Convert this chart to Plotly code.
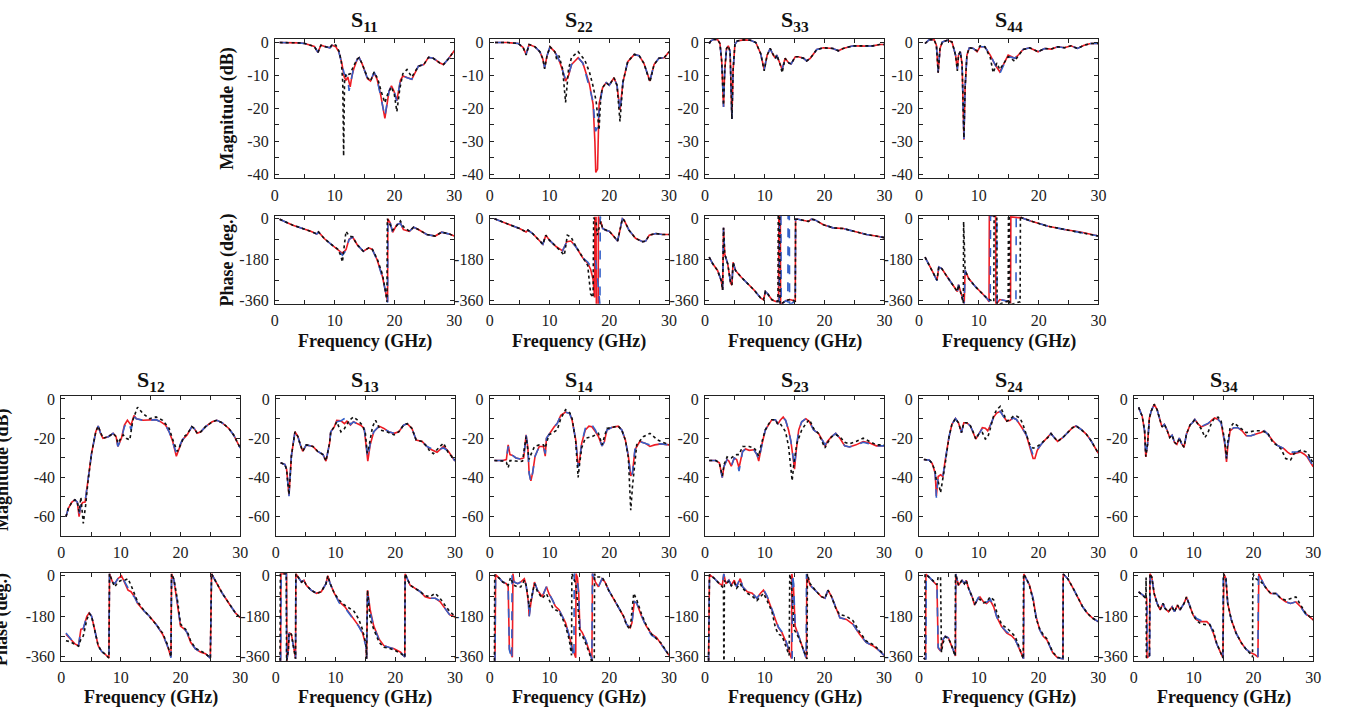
import plotly.graph_objects as go

# ---------------- DATA (frequency GHz, value) ----------------
# S11
S11_MAG_RED = [(0.8,0),(2,0),(4,-0.1),(5,-0.3),(6,-1.0),(6.6,-1.2),(7.2,-3.0),(7.7,-0.8),(8.5,-1.3),(9.2,-1.6),(9.6,-0.8),(10.2,-1.3),(10.7,-2.8),(11.2,-6.3),(11.6,-10.5),(11.9,-11.5),(12.2,-10.5),(12.6,-13.5),(12.9,-10),(13.2,-8.0),(13.8,-5.0),(14.1,-4.6),(14.6,-6.5),(15.5,-11),(16.0,-11.7),(16.6,-9.2),(17.1,-11.2),(17.7,-16),(18.4,-23.1),(19.1,-14.7),(19.5,-13.2),(19.9,-14.7),(20.4,-17.7),(21.0,-11.5),(21.4,-10.2),(22.1,-10.7),(22.9,-11.2),(24.0,-7.2),(24.9,-6.7),(25.7,-4.5),(26.5,-4.8),(27.6,-6.2),(28.2,-6.7),(29.0,-5.0),(30,-2.5)]
S11_MAG_BLUE = [(0.8,0),(2,0),(4,-0.1),(5,-0.3),(6,-1.0),(6.6,-1.2),(7.2,-3.0),(7.7,-0.8),(8.5,-1.3),(9.2,-1.6),(9.6,-0.8),(10.2,-1.3),(10.7,-2.8),(11.2,-6.3),(11.6,-9.5),(11.9,-10),(12.2,-10.5),(12.4,-14.7),(12.8,-11),(13.2,-7.5),(13.8,-5.0),(14.1,-4.6),(14.6,-6.5),(15.5,-11),(16.0,-11.7),(16.6,-9.0),(17.1,-11.2),(17.7,-16),(18.4,-22.5),(19.1,-14.7),(19.5,-13.2),(19.9,-14.7),(20.4,-17.7),(21.0,-11.5),(21.4,-10.2),(22.1,-10.7),(22.9,-11.2),(24.0,-7.2),(24.9,-6.7),(25.7,-4.5),(26.5,-4.8),(27.6,-6.2),(28.2,-6.7),(29.0,-5.0),(30,-2.5)]
S11_MAG_BLACK = [(0.8,0),(2,0),(4,-0.1),(5,-0.3),(6,-1.0),(6.6,-1.2),(7.2,-3.0),(7.7,-0.8),(8.5,-1.3),(9.2,-1.6),(9.6,-0.5),(10.2,-0.8),(10.7,-2.5),(11.1,-5.5),(11.35,-12),(11.5,-34.5),(11.65,-12),(11.9,-9.5),(12.2,-9.8),(12.6,-9.5),(13.2,-7),(13.8,-5),(14.1,-4.6),(14.6,-6.5),(15.5,-10.7),(16.0,-11.7),(16.6,-9.0),(17.2,-11),(17.8,-15),(18.4,-18.3),(18.9,-15.5),(19.5,-13.5),(20.0,-16),(20.4,-21),(20.9,-14),(21.4,-9.5),(22.1,-8.2),(22.6,-9.5),(22.9,-10.5),(24.0,-7.2),(24.9,-6.7),(25.7,-4.5),(26.5,-4.8),(27.6,-6.2),(28.2,-6.7),(29.0,-5.0),(30,-2.5)]
S11_PH_RED = [(0.8,-2),(3,-28),(6,-55),(7.0,-67),(7.3,-58),(8.3,-88),(9.4,-112),(10.5,-133),(11.3,-152),(11.9,-135),(12.4,-90),(13.0,-80),(13.8,-115),(14.8,-143),(15.7,-128),(16.3,-135),(17.1,-180),(18.0,-255),(18.5,-313),(18.85,-365),(18.9,0),(19.3,-19),(19.7,-60),(20.4,-26),(21.0,-19),(21.5,-48),(22.5,-55),(23.2,-37),(24.0,-47),(25.4,-69),(26.8,-76),(27.9,-59),(29.3,-68),(30,-76)]
S11_PH_BLUE = [(0.8,-2),(3,-28),(6,-55),(7.0,-67),(7.3,-58),(8.3,-88),(9.4,-112),(10.5,-135),(11.3,-160),(11.9,-140),(12.4,-92),(13.0,-80),(13.8,-115),(14.8,-143),(15.7,-128),(16.3,-135),(17.1,-182),(18.0,-258),(18.5,-318),(18.85,-368),(18.9,0),(19.3,-19),(19.7,-60),(20.4,-26),(21.0,-19),(21.5,-48),(22.5,-55),(23.2,-37),(24.0,-47),(25.4,-69),(26.8,-76),(27.9,-59),(29.3,-68),(30,-76)]
S11_PH_BLACK = [(0.8,-2),(3,-28),(6,-55),(7.0,-67),(7.3,-58),(8.3,-88),(9.4,-112),(10.5,-133),(11.0,-160),(11.3,-190),(11.6,-120),(11.9,-55),(12.4,-75),(13.0,-80),(13.8,-115),(14.8,-143),(15.7,-128),(16.3,-135),(17.1,-175),(18.0,-245),(18.5,-320),(18.75,-365),(18.8,0),(19.2,-20),(19.7,-50),(20.4,-30),(21.0,-10),(21.5,-35),(22.5,-55),(23.2,-37),(24.0,-47),(25.4,-69),(26.8,-76),(27.9,-59),(29.3,-68),(30,-76)]

# S22
S22_MAG_RED = [(0.9,0),(3,0),(4.8,-0.3),(5.6,-1.5),(6.1,-3.6),(6.6,-0.6),(7.6,-1.3),(8.4,-2.8),(8.9,-5),(9.2,-7.7),(9.6,-4),(10.1,-1.3),(10.9,-2.8),(11.6,-5.3),(12.2,-8.5),(12.7,-11.7),(13.2,-10),(13.7,-6.7),(14.8,-4.6),(15.6,-6.3),(16.7,-12.7),(17.3,-18.7),(17.6,-30),(17.75,-39.5),(18.05,-38.5),(18.3,-18.7),(18.9,-13.7),(19.5,-12.2),(20.0,-13),(20.8,-10.7),(21.3,-13),(21.8,-20.6),(22.3,-12),(23.1,-5.8),(24.2,-3.6),(25.0,-4),(25.8,-6.3),(26.3,-9),(26.8,-11.7),(27.5,-6.7),(28.3,-4.8),(29.2,-4.6),(30,-2.8)]
S22_MAG_BLUE = [(0.9,0),(3,0),(4.8,-0.3),(5.6,-1.5),(6.1,-3.6),(6.6,-0.6),(7.6,-1.3),(8.4,-2.8),(8.9,-5),(9.2,-7.7),(9.6,-4),(10.1,-1.3),(10.9,-2.8),(11.6,-5.3),(12.2,-8.5),(12.7,-11.2),(13.2,-9.8),(13.7,-6.7),(14.8,-4.6),(15.6,-6.3),(16.7,-13.7),(17.3,-18),(17.7,-27),(18.1,-25.6),(18.4,-19),(18.9,-13.7),(19.5,-12.2),(20.0,-13),(20.8,-10.7),(21.3,-13),(21.8,-21),(22.3,-12),(23.1,-5.8),(24.2,-3.6),(25.0,-4),(25.8,-6.3),(26.3,-9),(26.8,-11.7),(27.5,-6.7),(28.3,-4.8),(29.2,-4.6),(30,-2.8)]
S22_MAG_BLACK = [(0.9,0),(3,0),(4.8,-0.3),(5.6,-1.5),(6.1,-3.8),(6.6,-0.6),(7.6,-1.3),(8.4,-2.8),(8.9,-5),(9.2,-8),(9.6,-4),(10.1,-1.3),(10.9,-2.8),(11.2,-5),(11.6,-4),(12.2,-8),(12.7,-18.2),(13.2,-8),(13.7,-4.5),(14.8,-2.8),(15.9,-5.3),(16.7,-9),(17.3,-13.3),(17.8,-17.7),(18.3,-26.6),(18.6,-16),(18.9,-13.7),(19.5,-12.2),(20.0,-13),(20.8,-10.7),(21.3,-13),(21.8,-24),(22.3,-12),(23.1,-5.8),(24.2,-3.6),(25.0,-4),(25.8,-6.3),(26.3,-9),(26.8,-12),(27.5,-6.7),(28.3,-4.8),(29.2,-4.6),(30,-2.8)]
S22_PH_RED = [(0.8,0),(3.3,-26),(5,-43),(6.1,-58),(6.4,-50),(7.2,-65),(8.9,-112),(9.4,-72),(10,-94),(11.1,-122),(12.2,-141),(12.9,-101),(13.6,-98),(14.4,-122),(15.6,-173),(16.4,-195),(16.9,-223),(17.3,-266),(17.55,-346),(17.6,5),(17.8,5),(17.85,-378),(18.15,-378),(18.2,10),(18.4,-10),(18.6,-14),(18.9,-43),(19.4,-50),(20,-55),(20.6,-72),(21.4,-98),(22.2,0),(22.5,-7),(23.3,-50),(24.4,-86),(25.6,-101),(26.1,-98),(26.7,-72),(27.8,-65),(28.9,-69),(30,-69)]
S22_PH_BLUE = [(0.8,0),(3.3,-26),(5,-43),(6.1,-58),(6.4,-50),(7.2,-65),(8.9,-112),(9.4,-72),(10,-94),(11.1,-122),(12.2,-141),(12.9,-101),(13.6,-98),(14.4,-122),(15.6,-173),(16.4,-190),(16.9,-209),(17.3,-190),(17.7,-185),(18.0,-250),(18.45,-378),(18.5,10),(18.7,-15),(18.9,-43),(19.4,-50),(20,-55),(20.6,-72),(21.4,-98),(22.2,0),(22.5,-7),(23.3,-50),(24.4,-86),(25.6,-101),(26.1,-98),(26.7,-72),(27.8,-65),(28.9,-69),(30,-69)]
S22_PH_BLACK = [(0.8,0),(3.3,-26),(5,-43),(6.1,-58),(6.4,-50),(7.2,-65),(8.9,-112),(9.4,-72),(10,-94),(11.1,-122),(12.0,-145),(12.5,-160),(13.0,-72),(13.6,-80),(14.4,-120),(15.6,-170),(16.4,-205),(16.9,-331),(17.3,-346),(17.4,5),(17.8,-15),(18.0,-72),(18.3,-40),(18.6,-12),(18.9,-43),(19.4,-50),(20,-55),(20.6,-72),(21.4,-98),(22.2,0),(22.5,-7),(23.3,-50),(24.4,-86),(25.6,-101),(26.1,-98),(26.7,-72),(27.8,-65),(28.9,-69),(30,-69)]

# S33
S33_MAG_RED = [(0.7,-0.3),(1.0,0.5),(1.5,1),(2.1,0.9),(2.5,-0.3),(2.8,-5.8),(3.1,-19.6),(3.3,-8.5),(3.6,-1.8),(3.9,-1),(4.2,-2.8),(4.5,-23.1),(4.7,-8.5),(5.0,-0.6),(5.4,0.5),(6.5,0.8),(7.6,0.7),(8.5,0),(9.3,-3.3),(9.9,-8.2),(10.4,-3.8),(10.9,-1.8),(11.4,-3.8),(11.8,-4.8),(12.0,-3.8),(12.6,-7.2),(12.9,-8.2),(13.4,-4.8),(14.0,-6.2),(14.4,-6.5),(15.1,-4.3),(15.6,-4.3),(16.5,-4.8),(17.0,-5.6),(17.6,-4.8),(18.7,-2.1),(19.8,-1.6),(21.4,-1.8),(22.3,-2.5),(23.1,-1.8),(24.8,-1.0),(27,-1.1),(28.1,-1.0),(29.2,-0.6),(30,-0.6)]
S33_MAG_BLUE = [(0.7,-0.3),(1.0,0.5),(1.5,1),(2.1,0.9),(2.5,-0.3),(2.8,-5.8),(3.1,-19.6),(3.3,-8.5),(3.6,-1.8),(3.9,-1),(4.2,-2.8),(4.5,-23.6),(4.7,-8.5),(5.0,-0.6),(5.4,0.5),(6.5,0.8),(7.6,0.7),(8.5,0),(9.3,-3.3),(9.9,-8.2),(10.4,-3.8),(10.9,-1.8),(11.4,-3.8),(11.7,-5.3),(12.0,-3.8),(12.6,-7.2),(12.9,-8.2),(13.4,-4.8),(14.0,-6.2),(14.4,-6.5),(15.1,-4.3),(15.6,-4.3),(16.5,-4.8),(17.0,-5.6),(17.6,-4.8),(18.7,-2.1),(19.8,-1.6),(21.4,-1.8),(22.3,-2.5),(23.1,-1.8),(24.8,-1.0),(27,-1.1),(28.1,-1.0),(29.2,-0.6),(30,-0.6)]
S33_MAG_BLACK = [(0.7,-0.3),(1.0,0.5),(1.5,1),(2.1,0.9),(2.5,-0.3),(2.8,-5.8),(3.1,-19),(3.3,-8.5),(3.6,-1.8),(3.9,-1),(4.2,-2.8),(4.5,-23.3),(4.7,-8.5),(5.0,-0.6),(5.4,0.5),(6.5,0.8),(7.6,0.7),(8.5,0),(9.3,-3.3),(9.9,-8.6),(10.4,-3.8),(10.9,-1.8),(11.4,-3.6),(11.8,-4.8),(12.0,-3.8),(12.6,-6.8),(12.9,-9.2),(13.1,-7.2),(13.4,-4.8),(14.0,-6.2),(14.4,-6.5),(15.1,-4.3),(15.6,-4.3),(16.5,-4.8),(17.0,-5.6),(17.6,-4.8),(18.7,-2.1),(19.8,-1.6),(21.4,-1.8),(22.3,-2.5),(23.1,-1.8),(24.8,-1.0),(27,-1.1),(28.1,-1.0),(29.2,-0.6),(30,-0.6)]
S33_PH_RED = [(0.7,-169),(1.3,-198),(2.1,-227),(2.7,-270),(2.95,-313),(3.1,-40),(3.3,-155),(3.8,-198),(4.3,-284),(4.5,-291),(4.7,-191),(5.1,-227),(6,-255),(7.1,-284),(8.2,-313),(9.3,-348),(9.8,-356),(10.1,-320),(10.4,-327),(11.2,-356),(11.8,-363),(12.3,-363),(12.35,13),(12.6,13),(12.65,-378),(13.5,-360),(14.2,-355),(15.1,-362),(15.15,-2),(15.6,-2),(16.5,-9),(17.3,-12),(17.8,-2),(18.4,-5),(19.8,-26),(21.4,-40),(23.1,-43),(24.8,-55),(27,-69),(28.6,-76),(30,-83)]
S33_PH_BLUE = [(0.7,-169),(1.3,-198),(2.1,-227),(2.7,-270),(2.95,-313),(3.1,-40),(3.3,-155),(3.8,-198),(4.3,-284),(4.5,-291),(4.7,-191),(5.1,-227),(6,-255),(7.1,-284),(8.2,-313),(9.3,-348),(9.8,-356),(10.1,-320),(10.4,-327),(11.2,-356),(11.8,-363),(12.4,-363),(12.45,13),(12.7,13),(12.75,-378),(13.5,-360),(13.85,-365),(13.9,13),(14.1,13),(14.15,-378),(15.1,-362),(15.15,-2),(15.6,-2),(16.5,-9),(17.3,-12),(17.8,-2),(18.4,-5),(19.8,-26),(21.4,-40),(23.1,-43),(24.8,-55),(27,-69),(28.6,-76),(30,-83)]
S33_PH_BLACK = [(0.7,-169),(1.3,-198),(2.1,-227),(2.7,-270),(2.95,-313),(3.1,-40),(3.3,-155),(3.8,-198),(4.3,-284),(4.5,-291),(4.7,-191),(5.1,-227),(6,-255),(7.1,-284),(8.2,-313),(9.3,-348),(9.8,-356),(10.1,-320),(10.4,-327),(11.2,-356),(11.8,-363),(12.2,-363),(12.25,13),(12.5,13),(12.55,-378),(13.5,-360),(14.2,-355),(15.1,-362),(15.15,-2),(15.6,-2),(16.5,-9),(17.3,-12),(17.8,-2),(18.4,-5),(19.8,-26),(21.4,-40),(23.1,-43),(24.8,-55),(27,-69),(28.6,-76),(30,-83)]

# S44
S44_MAG_RED = [(1,-0.3),(1.7,0.9),(2.5,0.9),(2.9,-0.8),(3.2,-9.2),(3.5,-1.8),(3.9,0.2),(4.7,0.7),(5.5,0.2),(6.1,-3.8),(6.4,-8.2),(6.6,-3.8),(6.9,-2.8),(7.2,-6.7),(7.5,-29.6),(7.7,-13.7),(8.0,-3.8),(8.4,-1.6),(9.1,-1.8),(9.7,-2.8),(10.2,-1.3),(11,-1.3),(11.9,-3.8),(12.7,-6.7),(13.5,-8.9),(14.1,-6.7),(14.9,-3.8),(15.5,-4.3),(16,-4.8),(16.6,-3.8),(17.4,-2.1),(18.5,-1.6),(19.9,-2.8),(21,-1.8),(22.1,-2),(23.2,-1.3),(24.3,-1.6),(25.4,-1),(26.5,-1.8),(27.6,-0.8),(28.7,-0.3),(30,-0.3)]
S44_MAG_BLUE = [(1,-0.3),(1.7,0.9),(2.5,0.9),(2.9,-0.8),(3.2,-9.0),(3.5,-1.8),(3.9,0.2),(4.7,0.7),(5.5,0.2),(6.1,-3.8),(6.4,-8.0),(6.6,-3.8),(6.9,-2.8),(7.2,-6.7),(7.5,-29.3),(7.7,-13.7),(8.0,-3.8),(8.4,-1.6),(9.1,-1.8),(9.7,-2.8),(10.2,-1.3),(11,-1.3),(11.9,-3.8),(12.7,-6.9),(13.5,-9.5),(14.1,-7),(14.9,-4.3),(15.5,-4.5),(16,-4.8),(16.6,-3.8),(17.4,-2.1),(18.5,-1.6),(19.9,-2.8),(21,-1.8),(22.1,-2),(23.2,-1.3),(24.3,-1.6),(25.4,-1),(26.5,-1.8),(27.6,-0.8),(28.7,-0.3),(30,-0.3)]
S44_MAG_BLACK = [(1,-0.3),(1.7,0.9),(2.5,0.9),(2.9,-0.8),(3.2,-9.2),(3.5,-1.8),(3.9,0.2),(4.7,0.7),(5.5,0.2),(6.1,-3.8),(6.4,-8.6),(6.6,-3.8),(6.9,-2.8),(7.2,-6.7),(7.5,-29),(7.7,-13.7),(8.0,-3.8),(8.4,-1.6),(9.1,-1.8),(9.7,-2.5),(10.2,-1.0),(11,-1.3),(11.9,-4.5),(12.4,-9.2),(13.0,-6.2),(13.5,-8.2),(14.1,-6.5),(14.9,-4.3),(15.5,-5.0),(16,-5.7),(16.6,-4.0),(17.4,-2.1),(18.5,-1.6),(19.9,-2.8),(21,-1.8),(22.1,-2),(23.2,-1.3),(24.3,-1.6),(25.4,-1),(26.5,-1.8),(27.6,-0.8),(28.7,-0.3),(30,-0.3)]
S44_PH_RED = [(1,-169),(2.2,-227),(3.0,-270),(3.3,-212),(3.8,-219),(4.7,-255),(5.8,-298),(6.4,-320),(6.6,-290),(7.2,-348),(7.55,-372),(7.7,-227),(8.3,-263),(9.4,-298),(10.5,-327),(11.3,-348),(11.7,-365),(11.75,13),(12.8,13),(12.85,-378),(13.5,-355),(14.5,-360),(15.3,-368),(15.35,8),(16.5,5),(17.1,5),(18.8,-11),(21.6,-33),(24.3,-47),(27,-58),(30,-76)]
S44_PH_BLUE = [(1,-169),(2.2,-227),(3.0,-272),(3.3,-212),(3.8,-219),(4.7,-255),(5.8,-298),(6.4,-320),(6.6,-290),(7.2,-348),(7.55,-372),(7.7,-227),(8.3,-263),(9.4,-298),(10.5,-327),(11.3,-348),(11.9,-365),(11.95,13),(13.0,13),(13.05,-378),(13.5,-355),(14.5,-360),(16.2,-368),(16.25,13),(16.6,5),(17.1,5),(18.8,-11),(21.6,-33),(24.3,-47),(27,-58),(30,-76)]
S44_PH_BLACK = [(1,-169),(2.2,-227),(3.0,-270),(3.3,-212),(3.8,-219),(4.7,-255),(5.8,-298),(6.4,-320),(6.6,-290),(7.2,-348),(7.4,-370),(7.45,-13),(7.7,-227),(8.3,-263),(9.4,-298),(10.5,-327),(11.3,-348),(12.5,-365),(12.55,13),(13.0,13),(13.05,-378),(14.9,-362),(14.95,13),(15.1,13),(15.15,-378),(16.9,-365),(16.95,13),(17.1,5),(18.8,-11),(21.6,-33),(24.3,-47),(27,-58),(30,-76)]

# S12
S12_MAG_RED = [(0.8,-60.3),(1.2,-56),(1.8,-52.8),(2.3,-51.6),(2.7,-52.8),(3.0,-60.3),(3.3,-54.5),(3.6,-53),(4.0,-52.8),(4.5,-41),(5.1,-27.7),(5.8,-16.8),(6.2,-13.9),(6.6,-17.6),(7.0,-20.1),(7.9,-19.3),(8.7,-17.6),(9.2,-19.3),(9.5,-24.3),(10.1,-20.1),(10.6,-13.4),(11.1,-10.9),(11.5,-12.6),(11.7,-13.4),(12.2,-8.4),(12.6,-10.1),(13.7,-10.9),(14.8,-10.9),(15.9,-10.6),(16.7,-11.7),(17.5,-13.4),(18.1,-16.8),(18.7,-21.8),(19.3,-29.3),(19.8,-25.1),(20.3,-21),(21.1,-18.4),(21.9,-14.2),(22.3,-15.1),(22.8,-17.6),(23.4,-16.8),(24.2,-14.2),(25.3,-11.7),(26.1,-10.9),(27,-12.2),(28.1,-15.1),(28.9,-18.4),(30,-25.1)]
S12_MAG_BLUE = [(0.8,-60.3),(1.2,-56),(1.8,-52.8),(2.3,-51.6),(2.7,-52.8),(3.0,-59),(3.3,-54.5),(3.6,-53),(4.0,-52.8),(4.5,-41),(5.1,-27.7),(5.8,-16.8),(6.2,-13.9),(6.6,-17.6),(7.0,-20.1),(7.9,-19.3),(8.7,-17.6),(9.2,-19.3),(9.5,-24.3),(10.1,-20.1),(10.6,-14.2),(11.1,-11.7),(11.5,-13.5),(11.7,-15.9),(12.2,-9),(12.6,-10.1),(13.7,-10.9),(14.8,-10.9),(15.9,-10.6),(16.7,-11.7),(17.5,-13.4),(18.1,-16.8),(18.7,-21.8),(19.3,-27.7),(19.8,-24.3),(20.3,-21),(21.1,-18.4),(21.9,-14.2),(22.3,-15.1),(22.8,-17.6),(23.4,-16.8),(24.2,-14.2),(25.3,-11.7),(26.1,-10.9),(27,-12.2),(28.1,-15.1),(28.9,-18.4),(30,-25.1)]
S12_MAG_BLACK = [(0.8,-60.3),(1.2,-56),(1.8,-52.8),(2.3,-51.6),(2.7,-52.8),(3.0,-57.7),(3.3,-50.3),(3.7,-63.7),(4.1,-54.5),(4.5,-42),(5.1,-27.7),(5.8,-16.8),(6.2,-13.9),(6.6,-17.6),(7.0,-20.1),(7.9,-19.3),(8.7,-17.6),(9.2,-19.3),(9.5,-22.6),(10.4,-18.4),(10.9,-20.1),(11.5,-21),(12.0,-10.9),(12.8,-4.2),(13.7,-7.5),(14.8,-10.1),(15.9,-9.2),(17.0,-10.9),(18.1,-15.1),(18.9,-22.6),(19.5,-26.8),(20.0,-23.5),(20.6,-19.3),(21.1,-18),(21.9,-14.2),(22.3,-15.1),(22.8,-17.6),(23.4,-16.8),(24.2,-14.2),(25.3,-11.7),(26.1,-10.9),(27,-12.2),(28.1,-15.1),(28.9,-18.4),(30,-25.1)]
S12_PH_RED = [(0.8,-260),(1.5,-282),(2.3,-303),(2.9,-311),(3.3,-238),(3.7,-235),(4.3,-180),(4.7,-165),(5.1,-180),(5.6,-238),(6.2,-311),(6.8,-337),(7.3,-347),(8.0,-366),(8.1,9),(8.6,-28),(9.0,-35),(9.5,-13),(10.1,0),(10.6,-28),(11.2,-64),(11.7,-71),(12.3,-93),(12.8,-122),(13.7,-151),(14.8,-180),(15.9,-216),(17.0,-260),(17.8,-311),(18.4,-361),(18.5,9),(18.9,-20),(19.5,-122),(20.0,-224),(20.7,-238),(21.1,-253),(21.7,-296),(22.5,-325),(23.4,-340),(24.2,-347),(25.0,-366),(25.2,9),(25.8,-20),(27,-78),(28.1,-122),(29.2,-165),(30,-187)]
S12_PH_BLUE = [(0.8,-255),(1.5,-280),(2.3,-303),(2.9,-311),(3.3,-240),(3.7,-235),(4.3,-180),(4.7,-165),(5.1,-180),(5.6,-238),(6.2,-311),(6.8,-337),(7.3,-347),(8.0,-366),(8.1,9),(8.6,-28),(9.0,-35),(9.5,-13),(10.1,0),(10.6,-25),(11.2,-57),(11.7,-78),(12.3,-95),(12.8,-122),(13.7,-151),(14.8,-180),(15.9,-216),(17.0,-260),(17.8,-311),(18.4,-365),(18.5,9),(18.9,-20),(19.5,-122),(20.0,-224),(20.7,-238),(21.1,-253),(21.7,-296),(22.5,-325),(23.4,-340),(24.2,-347),(25.0,-366),(25.2,9),(25.8,-20),(27,-78),(28.1,-122),(29.2,-165),(30,-187)]
S12_PH_BLACK = [(0.8,-289),(1.5,-293),(2.3,-305),(2.9,-313),(3.3,-282),(3.7,-268),(4.3,-195),(4.7,-168),(5.1,-180),(5.6,-238),(6.2,-311),(6.8,-337),(7.3,-347),(8.0,-366),(8.1,9),(8.6,-28),(9.0,-49),(9.5,-28),(10.1,-20),(10.6,-20),(11.2,-13),(11.7,-42),(12.3,-78),(12.8,-115),(13.7,-148),(14.8,-180),(15.9,-216),(17.0,-255),(17.8,-305),(18.4,-361),(18.5,9),(18.9,-15),(19.5,-110),(20.0,-215),(20.7,-232),(21.1,-245),(21.7,-290),(22.5,-322),(23.4,-335),(24.2,-347),(25.0,-366),(25.2,9),(25.8,-20),(27,-78),(28.1,-122),(29.2,-165),(30,-187)]

# S13
S13_MAG_RED = [(0.8,-32.7),(1.5,-33.5),(1.8,-36),(2.0,-42.7),(2.2,-49.4),(2.4,-39.4),(2.6,-29.3),(3.2,-16.8),(3.7,-19.3),(4.1,-23.5),(4.5,-26.8),(5.1,-23.5),(6.2,-24.3),(7.0,-26.8),(7.9,-28.5),(8.4,-31.8),(9.0,-22.6),(9.2,-16.8),(9.8,-14.2),(10.2,-10.9),(10.9,-11.2),(11.5,-12.6),(11.9,-11.4),(12.5,-13.4),(13.0,-11.7),(13.6,-12.6),(14.2,-13.4),(14.8,-15.1),(15.2,-26),(15.4,-31.8),(15.8,-23.5),(16.4,-16.8),(17.3,-13.9),(18.1,-15.1),(18.9,-16.8),(19.8,-17.6),(20.6,-16.8),(21.4,-13.4),(22.0,-12.6),(22.8,-15.1),(23.5,-21),(24.5,-21.8),(25.3,-24.3),(26.1,-26),(27.0,-27.3),(27.5,-26),(28.1,-24.3),(28.9,-26.8),(30,-31.8)]
S13_MAG_BLUE = [(0.8,-32.7),(1.5,-33.5),(1.8,-36),(2.0,-42.7),(2.2,-49.8),(2.4,-39.4),(2.6,-29.3),(3.2,-16.8),(3.7,-19.3),(4.1,-23.5),(4.5,-26.8),(5.1,-23.5),(6.2,-24.3),(7.0,-26.8),(7.9,-28.5),(8.4,-31.8),(9.0,-22.6),(9.2,-16.8),(9.8,-14.2),(10.2,-11.7),(10.9,-11.2),(11.5,-10),(11.9,-9.2),(12.5,-13),(13.0,-11.7),(13.6,-12.6),(14.2,-13.4),(14.8,-15.1),(15.2,-25),(15.4,-30),(15.8,-23),(16.4,-16.8),(17.3,-13.9),(18.1,-15.1),(18.9,-16.8),(19.8,-17.6),(20.6,-16.8),(21.4,-13.4),(22.0,-12.6),(22.8,-15.1),(23.5,-21),(24.5,-21.8),(25.3,-24.3),(26.1,-25.5),(27.0,-26),(27.5,-25.5),(28.1,-25.1),(28.9,-26.8),(30,-31.8)]
S13_MAG_BLACK = [(0.8,-32.7),(1.5,-33.5),(1.8,-36),(2.0,-42.7),(2.2,-49),(2.4,-39.4),(2.6,-29.3),(3.2,-16.8),(3.7,-19.3),(4.1,-23.5),(4.5,-26.8),(5.1,-23.5),(6.2,-24.3),(7.0,-26.8),(7.9,-28.5),(8.4,-31.8),(9.0,-22.6),(9.2,-16.8),(9.8,-14.2),(10.2,-11.7),(10.9,-16.8),(11.5,-15.1),(12.3,-10.9),(13.0,-9.2),(13.7,-10.9),(14.5,-13.4),(15.0,-17.6),(15.3,-27.7),(15.6,-24.3),(16.2,-14.2),(16.7,-10.9),(17.5,-15.9),(18.6,-16.8),(19.8,-18.4),(20.6,-16.8),(21.4,-13.4),(22.0,-12.6),(22.8,-15.1),(23.5,-21),(24.5,-21.8),(25.3,-24.3),(25.8,-26.8),(26.4,-28),(27.5,-24.3),(28.1,-22.6),(28.9,-27.7),(30,-31)]
S13_PH_RED = [(0.8,-378),(0.85,9),(1.8,9),(1.85,-378),(2.1,-330),(2.2,-253),(2.6,-260),(2.9,-311),(3.3,-369),(3.35,9),(3.9,-13),(4.3,-28),(4.7,-20),(5.1,-42),(5.9,-64),(6.8,-78),(7.6,-71),(8.4,-35),(8.7,0),(9.1,-35),(9.8,-78),(10.6,-115),(11.5,-136),(12.3,-165),(13.1,-194),(13.9,-224),(14.5,-253),(15.1,-311),(15.2,-369),(15.35,-64),(15.8,-151),(16.4,-224),(17.3,-282),(18.1,-311),(18.9,-318),(19.8,-325),(20.9,-340),(21.6,-361),(21.65,9),(22.5,-42),(23.4,-57),(24.2,-71),(25,-93),(25.8,-100),(26.7,-100),(27.5,-115),(28.3,-144),(29.1,-173),(30,-183)]
S13_PH_BLUE = [(0.8,-378),(0.9,9),(1.75,9),(1.8,-378),(2.1,-330),(2.2,-253),(2.6,-260),(2.9,-311),(3.3,-369),(3.35,9),(3.9,-13),(4.3,-28),(4.7,-20),(5.1,-42),(5.9,-64),(6.8,-78),(7.6,-71),(8.4,-35),(8.7,0),(9.1,-35),(9.8,-78),(10.6,-120),(11.5,-140),(12.3,-170),(13.1,-196),(13.9,-226),(14.5,-255),(15.1,-315),(15.2,-369),(15.35,-70),(15.8,-160),(16.4,-228),(17.3,-285),(18.1,-311),(18.9,-318),(19.8,-325),(20.9,-340),(21.6,-361),(21.65,9),(22.5,-42),(23.4,-57),(24.2,-71),(25,-93),(25.8,-100),(26.7,-100),(27.5,-112),(28.3,-144),(29.1,-173),(30,-185)]
S13_PH_BLACK = [(0.7,-378),(0.75,9),(1.75,9),(1.8,-378),(2.1,-330),(2.2,-253),(2.6,-260),(2.9,-311),(3.3,-369),(3.35,9),(3.9,-13),(4.3,-28),(4.7,-20),(5.1,-42),(5.9,-64),(6.8,-78),(7.6,-71),(8.4,-35),(8.7,0),(9.1,-35),(9.8,-78),(10.6,-108),(11.5,-130),(12.3,-144),(13.1,-158),(13.9,-194),(14.5,-238),(15.1,-305),(15.2,-369),(15.35,-64),(15.8,-194),(16.4,-238),(17.3,-296),(18.1,-318),(18.9,-322),(19.8,-330),(20.9,-345),(21.6,-361),(21.65,9),(22.5,-42),(23.4,-57),(24.2,-71),(25,-88),(25.8,-93),(26.7,-78),(27.5,-100),(28.3,-130),(29.1,-158),(30,-180)]

# S14
S14_MAG_RED = [(0.8,-31.5),(2.2,-31.5),(2.8,-31),(3.1,-23.5),(3.4,-28.5),(3.9,-29),(4.4,-30.2),(5.1,-30.7),(5.7,-30.2),(6.1,-18.4),(6.4,-25.1),(6.6,-37.7),(6.9,-41.9),(7.2,-37.7),(7.6,-29.3),(8.3,-24.3),(9.0,-24.3),(9.3,-29.3),(9.5,-20.1),(10.2,-16.8),(10.8,-14.2),(11.3,-12.6),(11.9,-8.4),(12.7,-6.7),(13.4,-7.5),(13.8,-10.9),(14.4,-21),(14.8,-34.4),(15.0,-32.7),(15.4,-22.6),(16.0,-15.9),(16.6,-13.9),(17.1,-14.2),(17.7,-16.8),(18.2,-19.3),(18.8,-24),(19.2,-21.8),(19.6,-15.9),(20.4,-14.6),(21.5,-13.9),(22.1,-15.9),(22.7,-21),(23.2,-29.3),(23.6,-39.4),(23.9,-37.7),(24.3,-26),(25.1,-21.8),(26.0,-22.6),(26.8,-24.3),(27.6,-23.5),(28.7,-23),(30,-23.5)]
S14_MAG_BLUE = [(0.8,-31.5),(2.2,-31.5),(2.8,-31),(3.1,-24.3),(3.4,-28.5),(3.9,-29),(4.4,-30.2),(5.1,-30.7),(5.7,-30.2),(6.1,-18.4),(6.4,-25.1),(6.6,-38),(6.9,-42.4),(7.2,-37.7),(7.6,-29.3),(8.3,-24.3),(9.0,-24.3),(9.3,-28),(9.5,-20.1),(10.2,-16.8),(10.8,-14.2),(11.3,-12.6),(11.9,-8.4),(12.7,-6.7),(13.4,-7.5),(13.8,-10.9),(14.4,-21),(14.8,-35),(15.0,-32.7),(15.4,-22.6),(16.0,-15),(16.6,-12.9),(17.1,-13.2),(17.7,-16),(18.2,-19.3),(18.8,-24),(19.2,-21.8),(19.6,-15.9),(20.4,-14.6),(21.5,-13.9),(22.1,-15.9),(22.7,-21),(23.2,-29.3),(23.6,-40.2),(23.9,-37.7),(24.3,-26),(25.1,-21.8),(26.0,-22.6),(26.8,-23.5),(27.6,-23.2),(28.7,-23),(30,-23.5)]
S14_MAG_BLACK = [(0.8,-31.5),(2.2,-31.8),(2.8,-32.5),(3.1,-35.2),(3.4,-31.5),(3.9,-31.5),(4.4,-31.8),(5.1,-32),(5.5,-31.8),(6.1,-19.3),(6.4,-27),(6.6,-31),(6.9,-28.5),(7.5,-24.3),(8.3,-23.5),(9.0,-23.5),(9.3,-25.1),(9.9,-18.4),(10.8,-16.8),(11.3,-15.9),(11.9,-10),(12.7,-5.5),(13.4,-7),(13.8,-10.1),(14.4,-22),(14.8,-40.2),(15.0,-34.4),(15.4,-25),(16.0,-20.1),(17.1,-19.3),(18.2,-17.6),(18.8,-23.5),(19.6,-15.1),(20.4,-14.6),(21.5,-13.9),(22.1,-15.9),(22.7,-21),(23.2,-30),(23.6,-57),(23.9,-44.4),(24.6,-23.5),(25.7,-19.3),(26.8,-17.6),(28.1,-21),(30,-23.5)]
S14_PH_RED = [(0.9,-378),(1.0,5),(1.7,-13),(2.2,-28),(2.8,-35),(3.1,-49),(3.3,-325),(3.6,-347),(3.8,-362),(3.9,10),(4.1,-28),(4.7,-35),(5.2,-28),(5.8,-13),(6.1,-42),(6.5,-122),(6.6,-180),(6.9,-122),(7.5,-28),(8.0,-64),(8.8,-93),(9.5,-49),(9.9,-78),(10.5,-107),(11.0,-136),(11.6,-151),(12.2,-180),(12.7,-209),(13.3,-267),(13.8,-318),(14.4,-365),(14.45,10),(14.7,-10),(14.9,-78),(15.1,-238),(15.5,-253),(16.0,-282),(16.6,-325),(17.0,-361),(17.1,-372),(17.2,10),(17.7,-28),(18.2,-49),(18.8,-13),(19.3,-28),(19.9,-64),(20.7,-100),(21.5,-136),(22.4,-180),(22.9,-216),(23.5,-231),(23.8,-209),(24.2,-115),(24.6,-122),(25.4,-180),(26.2,-224),(27.1,-260),(27.9,-274),(28.7,-303),(30,-354)]
S14_PH_BLUE = [(0.9,-378),(1.0,5),(1.7,-13),(2.2,-28),(2.8,-35),(3.1,-49),(3.3,-330),(3.6,-360),(3.7,-372),(3.75,10),(4.1,-28),(4.7,-35),(5.2,-28),(5.8,-13),(6.1,-42),(6.5,-122),(6.6,-185),(6.9,-122),(7.5,-28),(8.0,-64),(8.8,-93),(9.5,-49),(9.9,-78),(10.5,-107),(11.0,-136),(11.6,-151),(12.2,-180),(12.7,-209),(13.3,-267),(13.8,-325),(14.1,-365),(14.15,10),(14.6,-10),(14.9,-78),(15.1,-238),(15.5,-253),(16.0,-282),(16.6,-325),(17.0,-361),(17.1,-372),(17.2,10),(17.7,-28),(18.2,-49),(18.8,-13),(19.3,-28),(19.9,-64),(20.7,-100),(21.5,-136),(22.4,-180),(22.9,-216),(23.5,-231),(23.8,-209),(24.2,-115),(24.6,-122),(25.4,-180),(26.2,-230),(27.1,-265),(27.9,-278),(28.7,-305),(30,-354)]
S14_PH_BLACK = [(0.8,-378),(0.85,5),(1.7,-13),(2.2,-28),(2.8,-35),(3.1,-42),(3.5,-8),(4.0,-42),(4.7,-50),(5.2,-50),(5.8,-20),(6.1,-42),(6.5,-110),(6.6,-140),(6.9,-110),(7.5,-35),(8.0,-70),(8.8,-100),(9.5,-80),(10.5,-140),(11.0,-151),(11.6,-160),(12.2,-190),(12.7,-225),(13.3,-282),(13.7,-354),(13.75,10),(14.1,-13),(14.4,-35),(14.9,-180),(15.1,-267),(15.5,-267),(16.0,-296),(16.8,-354),(17.0,-375),(17.5,-375),(17.55,10),(17.7,-5),(18.2,-6),(18.8,-6),(19.3,-28),(19.9,-64),(20.7,-100),(21.5,-136),(22.4,-180),(22.9,-220),(23.5,-238),(24.1,-78),(24.6,-107),(25.4,-170),(26.2,-220),(27.1,-260),(27.9,-280),(28.7,-300),(30,-354)]

# S23
S23_MAG_RED = [(0.7,-31.5),(1.8,-31.5),(2.4,-32.7),(2.9,-40.2),(3.2,-34.4),(3.7,-31),(4.0,-31.8),(4.4,-34.4),(4.9,-30.2),(5.3,-31),(5.7,-35.2),(6.3,-26.8),(6.8,-25.6),(7.4,-26.3),(8.2,-26),(8.7,-28.5),(9.0,-31.8),(9.4,-25.1),(10.1,-15.9),(10.7,-12.6),(11.2,-10.6),(11.8,-10.6),(12.2,-12.9),(12.6,-10.9),(13.1,-9.2),(13.5,-10.9),(14.0,-15.9),(14.4,-21.8),(14.8,-31),(15.0,-36),(15.3,-26),(15.7,-15.9),(16.2,-11.7),(16.9,-10.1),(17.5,-11.7),(18.2,-15.9),(19.0,-17.6),(19.8,-21.8),(20.1,-24.3),(20.5,-21.8),(21.2,-19.3),(21.9,-17.6),(22.6,-20.1),(23.4,-24),(24.2,-24.6),(25.3,-23.5),(26.5,-21.8),(27.6,-22.6),(28.7,-24),(30,-24)]
S23_MAG_BLUE = [(0.7,-31.5),(1.8,-31.5),(2.4,-32.7),(2.9,-40.2),(3.2,-34.4),(3.7,-31),(4.0,-31.8),(4.4,-34.4),(4.9,-30.2),(5.3,-31),(5.7,-36.9),(6.3,-27),(6.8,-25.6),(7.4,-26.3),(8.2,-26),(8.7,-28.5),(9.0,-31),(9.4,-25.1),(10.1,-15.9),(10.7,-12.6),(11.2,-10.6),(11.8,-10.6),(12.2,-12.9),(12.6,-10.9),(13.1,-9.6),(13.5,-10.9),(14.0,-15.9),(14.4,-21.8),(14.8,-30),(15.0,-34.4),(15.3,-25),(15.7,-15.9),(16.2,-11.7),(16.9,-10.1),(17.5,-11.7),(18.2,-15.9),(19.0,-17.6),(19.8,-21.8),(20.1,-23.5),(20.5,-21.8),(21.2,-19.3),(21.9,-17.6),(22.6,-20.1),(23.4,-24),(24.2,-24.6),(25.3,-23.5),(26.5,-22.2),(27.6,-23),(28.7,-24),(30,-24)]
S23_MAG_BLACK = [(0.7,-31.5),(1.8,-31.5),(2.4,-32.7),(2.9,-39.4),(3.2,-33.5),(3.7,-29.7),(4.0,-30.2),(4.4,-30.2),(4.9,-29),(5.3,-28.5),(5.7,-28.5),(6.3,-24.3),(7.4,-24.3),(8.2,-25.1),(8.7,-27),(9.0,-29.3),(9.4,-23.5),(10.1,-15.9),(10.7,-12.6),(11.2,-10.6),(11.8,-10.6),(12.2,-12.9),(12.6,-12.6),(13.5,-16.8),(14.0,-24.3),(14.4,-37.7),(14.6,-41.9),(14.9,-32.7),(15.4,-22.6),(16.2,-15.9),(16.9,-12.6),(17.5,-10.6),(18.2,-15.1),(19.0,-17.6),(19.8,-22.6),(20.1,-25.1),(20.5,-22.6),(21.2,-19.3),(22.0,-18.4),(22.6,-19.3),(23.4,-22.2),(24.2,-23),(25.3,-21.8),(26.5,-20.1),(27.6,-21.8),(28.7,-23.5),(30,-23.5)]
S23_PH_RED = [(0.6,-378),(0.75,5),(1.5,-10),(2.4,-35),(2.9,-42),(3.05,-15),(3.15,8),(3.5,-35),(4.0,-20),(4.4,-42),(4.9,-20),(5.3,-49),(5.9,-13),(6.3,-49),(7.1,-71),(7.9,-78),(8.7,-100),(9.3,-78),(9.8,-64),(10.4,-93),(11.2,-151),(11.8,-202),(12.3,-231),(12.9,-253),(13.7,-303),(14.3,-354),(14.5,-368),(14.55,8),(14.8,-35),(15.1,-224),(15.7,-267),(16.2,-311),(16.8,-354),(17.0,-368),(17.05,8),(17.6,-42),(18.7,-71),(19.5,-93),(20.1,-100),(20.6,-64),(21.2,-93),(22.0,-151),(22.6,-187),(23.7,-194),(24.8,-216),(25.9,-260),(27.0,-296),(28.1,-311),(29.2,-333),(30,-354)]
S23_PH_BLUE = [(0.6,-378),(0.75,5),(1.5,-10),(2.4,-35),(2.9,-42),(3.05,-15),(3.15,8),(3.5,-35),(4.0,-20),(4.4,-42),(4.9,-20),(5.3,-49),(5.9,-8),(6.3,-49),(7.1,-71),(7.9,-78),(8.7,-100),(9.3,-78),(9.8,-60),(10.4,-90),(11.2,-148),(11.8,-200),(12.3,-228),(12.9,-250),(13.7,-300),(14.3,-352),(14.6,-368),(14.65,8),(14.85,-35),(15.1,-220),(15.7,-267),(16.2,-311),(16.8,-354),(16.95,-368),(17.0,8),(17.6,-42),(18.7,-71),(19.5,-93),(20.1,-100),(20.6,-64),(21.2,-93),(22.0,-151),(22.6,-187),(23.7,-194),(24.8,-216),(25.9,-260),(27.0,-296),(28.1,-311),(29.2,-333),(30,-354)]
S23_PH_BLACK = [(0.6,-378),(0.75,5),(1.5,-10),(2.4,-35),(2.9,-45),(3.1,-55),(3.15,-378),(3.2,-378),(3.25,-20),(3.5,-35),(4.0,-25),(4.4,-45),(4.9,-30),(5.3,-55),(5.9,-35),(6.3,-55),(7.1,-78),(7.9,-90),(8.7,-110),(9.3,-90),(9.8,-78),(10.4,-110),(11.2,-158),(11.8,-231),(12.3,-260),(12.9,-267),(13.7,-325),(14.1,-354),(14.2,8),(14.4,-20),(14.6,-78),(14.9,-238),(15.7,-275),(16.2,-311),(16.9,-360),(17.1,-370),(17.15,8),(17.6,-35),(18.7,-71),(19.5,-93),(20.1,-100),(20.6,-64),(21.2,-93),(22.0,-151),(22.6,-173),(23.7,-180),(24.8,-200),(25.9,-250),(27.0,-290),(28.1,-305),(29.2,-330),(30,-350)]

# S24
S24_MAG_RED = [(0.8,-31),(1.7,-31.3),(2.2,-33),(2.7,-38),(2.9,-49.7),(3.2,-39.7),(3.6,-38.8),(4.0,-39.7),(4.3,-33),(5.0,-19.7),(5.5,-13),(6.1,-10),(6.6,-12.2),(7.1,-17.2),(7.5,-12.2),(8.0,-12.2),(8.6,-13.8),(9.1,-17.2),(9.5,-20.5),(10.0,-18),(10.6,-14.7),(11.1,-15),(11.5,-16.3),(11.9,-13.8),(12.5,-9.3),(13.0,-7.2),(13.6,-6.3),(14.1,-8.8),(14.7,-11.3),(15.2,-11),(15.8,-9.7),(16.3,-10.5),(16.9,-13),(17.4,-15.5),(18.0,-18.8),(18.5,-24.7),(19.1,-30.5),(19.4,-30.5),(19.8,-26.3),(20.5,-23),(21.0,-21.3),(21.6,-19.7),(22.1,-17.7),(22.7,-20),(23.2,-21.7),(24.1,-19.7),(24.9,-17.2),(25.7,-14.7),(26.3,-13.8),(27.1,-15.5),(28.0,-18),(28.8,-21.3),(30,-27.7)]
S24_MAG_BLUE = [(0.8,-31),(1.7,-31.3),(2.2,-33),(2.7,-38),(2.9,-50.5),(3.2,-39.7),(3.6,-38.8),(4.0,-39.7),(4.3,-33),(5.0,-19.7),(5.5,-13),(6.1,-10),(6.6,-12.2),(7.1,-17.2),(7.5,-12.2),(8.0,-12.2),(8.6,-13.8),(9.1,-17.2),(9.5,-20),(10.0,-18),(10.6,-15.2),(11.1,-15.5),(11.5,-15.5),(11.9,-13.8),(12.5,-9.3),(13.0,-7.2),(13.6,-6.3),(14.1,-8.8),(14.7,-11.3),(15.2,-11),(15.8,-9.7),(16.3,-10.5),(16.9,-13),(17.4,-15.5),(18.0,-18.5),(18.5,-23.8),(19.1,-28.8),(19.4,-28.3),(19.8,-25.8),(20.5,-23),(21.0,-21.3),(21.6,-19.7),(22.1,-17.7),(22.7,-20),(23.2,-21.7),(24.1,-19.7),(24.9,-17.2),(25.7,-14.7),(26.3,-13.8),(27.1,-15.5),(28.0,-18),(28.8,-21.3),(30,-27.7)]
S24_MAG_BLACK = [(0.8,-31),(1.7,-31.3),(2.2,-33),(2.7,-37),(2.9,-42),(3.2,-42.2),(3.6,-48),(3.9,-41.3),(4.3,-34.7),(5.0,-19.7),(5.5,-13),(6.1,-10),(6.6,-12.2),(7.1,-17.2),(7.5,-12.2),(8.0,-12.2),(8.6,-13.8),(9.1,-17.2),(9.5,-20.5),(10.0,-18),(10.6,-17.2),(11.1,-20.5),(11.5,-19.7),(11.9,-15.5),(12.5,-8.5),(13.0,-5.5),(13.6,-3.8),(14.1,-7.2),(14.7,-11.3),(15.2,-10.5),(15.8,-8.8),(16.3,-8.8),(16.9,-9.7),(17.4,-13),(18.0,-18),(18.5,-23),(19.1,-25.2),(19.6,-24.7),(20.5,-22.7),(21.0,-21.3),(21.6,-19.7),(22.1,-17.7),(22.7,-20),(23.2,-21.7),(24.1,-19.7),(24.9,-17.2),(25.7,-14.7),(26.3,-13.8),(27.1,-15.5),(28.0,-18),(28.8,-21.3),(30,-27.7)]
S24_PH_RED = [(0.8,-365),(1.1,-372),(1.15,8),(1.7,-6),(2.2,-18),(2.7,-32),(3.0,-42),(3.2,-321),(3.6,-335),(4.0,-284),(4.4,-269),(4.9,-276),(5.3,-299),(5.8,-335),(6.1,-357),(6.15,8),(6.6,-42),(7.2,-20),(7.6,-35),(7.9,-20),(8.3,-57),(8.9,-94),(9.3,-130),(9.9,-101),(10.2,-94),(10.8,-116),(11.3,-123),(11.9,-108),(12.5,-138),(13.0,-182),(13.8,-225),(14.7,-255),(15.5,-267),(16.1,-284),(16.6,-313),(17.2,-350),(17.5,-369),(17.55,8),(18.0,-13),(18.5,-42),(19.1,-101),(19.6,-182),(20.2,-240),(20.8,-269),(21.4,-284),(21.9,-313),(22.4,-343),(23.2,-365),(24.1,-369),(24.15,8),(24.9,-13),(25.7,-50),(26.6,-94),(27.4,-138),(28.2,-167),(29.1,-189),(30,-204)]
S24_PH_BLUE = [(0.8,-365),(1.15,-372),(1.2,8),(1.7,-6),(2.2,-18),(2.7,-32),(3.0,-42),(3.2,-318),(3.6,-332),(4.0,-284),(4.4,-269),(4.9,-276),(5.3,-299),(5.8,-335),(6.1,-357),(6.15,8),(6.6,-42),(7.2,-20),(7.6,-35),(7.9,-20),(8.3,-57),(8.9,-94),(9.3,-130),(9.9,-98),(10.2,-92),(10.8,-110),(11.3,-118),(11.9,-104),(12.5,-135),(13.0,-182),(13.8,-225),(14.7,-250),(15.5,-265),(16.1,-284),(16.6,-313),(17.2,-350),(17.5,-369),(17.55,8),(18.0,-13),(18.5,-42),(19.1,-101),(19.6,-182),(20.2,-240),(20.8,-269),(21.4,-284),(21.9,-313),(22.4,-343),(23.2,-365),(24.1,-369),(24.15,8),(24.9,-13),(25.7,-50),(26.6,-94),(27.4,-138),(28.2,-167),(29.1,-189),(30,-204)]
S24_PH_BLACK = [(0.8,-365),(0.95,-372),(1.0,8),(1.7,-6),(2.2,-18),(2.7,-32),(3.0,-40),(3.2,-5),(3.6,-5),(3.75,-340),(4.0,-300),(4.4,-272),(4.9,-278),(5.3,-299),(5.8,-335),(6.05,-357),(6.1,8),(6.6,-42),(7.2,-20),(7.6,-35),(7.9,-20),(8.3,-57),(8.9,-94),(9.3,-125),(9.9,-108),(10.2,-104),(10.8,-120),(11.3,-116),(11.9,-94),(12.5,-108),(13.0,-160),(13.8,-215),(15.0,-240),(16.1,-270),(16.6,-305),(17.2,-348),(17.45,-369),(17.5,8),(18.0,-13),(18.5,-45),(19.1,-110),(19.6,-190),(20.2,-235),(20.8,-262),(21.4,-280),(21.9,-310),(22.4,-340),(23.2,-362),(24.1,-369),(24.15,8),(24.9,-13),(25.7,-50),(26.6,-94),(27.4,-138),(28.2,-167),(29.1,-189),(30,-204)]

# S34
S34_MAG_RED = [(0.8,-4.3),(1.4,-8.8),(1.8,-16.3),(2.0,-29.7),(2.3,-23),(2.6,-9.7),(2.9,-6.3),(3.4,-2.7),(3.9,-5.5),(4.4,-11.3),(4.7,-14.3),(5.1,-13),(5.5,-15.5),(6.0,-19.7),(6.4,-18.5),(6.8,-22.2),(7.2,-23.3),(7.6,-20),(8.0,-23),(8.4,-24.7),(8.8,-18),(9.4,-13.3),(9.8,-12.2),(10.2,-10.5),(10.8,-13),(11.3,-14.3),(11.9,-13.3),(12.4,-12.7),(13.0,-11),(13.5,-9.7),(14.1,-10.5),(14.6,-12.2),(15.2,-23),(15.5,-32.2),(15.7,-24.7),(16.1,-16.3),(16.7,-14.7),(17.4,-14.7),(18.1,-16.3),(18.8,-18.8),(19.6,-18.8),(20.2,-18),(20.7,-17.7),(21.3,-17.2),(21.8,-16.3),(22.4,-18),(23.2,-21.3),(24.0,-23.8),(24.6,-24.7),(25.1,-25.5),(25.7,-27.2),(26.2,-28.3),(26.8,-28),(27.3,-27.7),(27.9,-27.2),(28.5,-28.3),(29.0,-29.7),(30,-34.7)]
S34_MAG_BLUE = [(0.8,-4.3),(1.4,-8.8),(1.8,-16.3),(2.0,-29),(2.3,-23),(2.6,-9.7),(2.9,-6.3),(3.4,-2.7),(3.9,-5.5),(4.4,-11.3),(4.7,-14.3),(5.1,-13),(5.5,-15.5),(6.0,-19.7),(6.4,-18.5),(6.8,-22.2),(7.2,-23.3),(7.6,-20),(8.0,-23),(8.4,-24.7),(8.8,-18),(9.4,-13.3),(9.8,-12.2),(10.2,-10.5),(10.8,-13),(11.3,-14),(11.9,-13),(12.4,-12.5),(13.0,-11),(13.5,-9.7),(14.1,-10.5),(14.6,-12.2),(15.2,-22),(15.5,-30.5),(15.7,-24),(16.1,-16.3),(16.7,-14.7),(17.4,-14.7),(18.1,-16.3),(18.8,-18.8),(19.6,-18.8),(20.2,-18),(20.7,-17.7),(21.3,-17.2),(21.8,-16.3),(22.4,-18),(23.2,-21.3),(24.0,-23.8),(24.6,-24.7),(25.1,-25.3),(25.7,-26.3),(26.5,-27.2),(27.3,-27),(27.9,-26.8),(28.5,-27.2),(29.0,-29),(30,-34.5)]
S34_MAG_BLACK = [(0.8,-4.3),(1.4,-8.8),(1.8,-16.3),(2.0,-29.5),(2.3,-23),(2.6,-9.7),(2.9,-6.3),(3.4,-2.7),(3.9,-5.5),(4.4,-11.3),(4.7,-14.3),(5.1,-13),(5.5,-15.5),(6.0,-19.7),(6.4,-18.5),(6.8,-22.2),(7.2,-23.3),(7.6,-20),(8.0,-23),(8.4,-24.7),(8.8,-18),(9.4,-13.3),(9.8,-12.2),(10.2,-10.5),(10.8,-13),(11.3,-15.5),(11.9,-19.7),(12.4,-17.2),(13.0,-12.2),(13.5,-9.7),(14.1,-9.3),(14.6,-11.3),(15.2,-21.3),(15.5,-30.5),(15.7,-22.2),(16.1,-14.7),(16.7,-12.2),(17.4,-13.8),(18.8,-17.2),(20.2,-16.3),(21.3,-16.3),(22.4,-17.5),(23.2,-22),(24.6,-25.5),(25.4,-30.5),(26.2,-31.3),(26.8,-28),(27.9,-26.3),(29.0,-27.2),(30,-33)]
S34_PH_RED = [(0.8,-72),(1.4,-86),(1.9,-94),(2.15,-100),(2.2,-365),(2.6,-355),(2.7,9),(3.0,-6),(3.4,-79),(3.9,-123),(4.4,-152),(4.9,-123),(5.2,-145),(5.8,-160),(6.4,-138),(6.8,-160),(7.3,-130),(7.7,-152),(8.4,-123),(8.8,-94),(9.4,-138),(9.9,-174),(10.5,-196),(11.3,-204),(12.2,-204),(12.7,-218),(13.3,-255),(13.8,-299),(14.4,-335),(14.9,-365),(15.05,9),(15.4,-13),(15.7,-123),(16.3,-196),(17.1,-255),(18.0,-299),(18.8,-328),(19.6,-343),(20.2,-350),(20.75,-362),(20.9,9),(21.3,-13),(21.8,-42),(22.4,-64),(22.9,-79),(23.8,-79),(24.6,-101),(25.4,-116),(26.2,-123),(27.1,-116),(27.9,-138),(28.7,-167),(30,-196)]
S34_PH_BLUE = [(0.8,-72),(1.4,-86),(1.9,-94),(2.2,-100),(2.25,-365),(2.65,-355),(2.75,9),(3.0,-6),(3.4,-79),(3.9,-123),(4.4,-152),(4.9,-123),(5.2,-145),(5.8,-160),(6.4,-138),(6.8,-160),(7.3,-130),(7.7,-152),(8.4,-123),(8.8,-94),(9.4,-138),(9.9,-170),(10.5,-190),(11.3,-200),(12.2,-200),(12.7,-215),(13.3,-255),(13.8,-299),(14.4,-335),(14.9,-365),(14.95,9),(15.4,-13),(15.7,-123),(16.3,-196),(17.1,-255),(18.0,-299),(18.8,-328),(19.6,-343),(20.2,-350),(20.75,-362),(20.85,9),(21.3,-13),(21.8,-42),(22.4,-64),(22.9,-79),(23.8,-79),(24.6,-101),(25.4,-116),(26.2,-123),(27.1,-116),(27.9,-138),(28.7,-170),(30,-200)]
S34_PH_BLACK = [(0.8,-72),(1.4,-86),(1.9,-94),(2.0,-100),(2.05,-8),(2.1,-365),(2.6,-355),(2.7,9),(3.0,-6),(3.4,-79),(3.9,-123),(4.4,-152),(4.9,-123),(5.2,-145),(5.8,-160),(6.4,-138),(6.8,-160),(7.3,-130),(7.7,-152),(8.4,-123),(8.8,-94),(9.4,-138),(9.9,-174),(10.5,-200),(11.3,-215),(12.2,-218),(12.7,-218),(13.3,-245),(13.8,-295),(14.4,-335),(14.9,-365),(15.0,9),(15.4,-13),(15.7,-123),(16.3,-196),(17.1,-255),(18.0,-299),(18.8,-328),(19.6,-350),(19.85,-362),(19.9,9),(20.4,-13),(21.3,-28),(22.4,-64),(22.9,-79),(23.8,-79),(24.6,-101),(25.4,-108),(26.2,-101),(27.1,-94),(27.9,-130),(28.7,-165),(30,-196)]

PANEL_NAMES = ["11", "22", "33", "44", "12", "13", "14", "23", "24", "34"]
MAG_TICKS_TOP = [0, -10, -20, -30, -40]
MAG_TICKS_BOTTOM = [0, -20, -40, -60]
PHASE_TICKS = [0, -180, -360]
FREQ_TICKS = [0, 10, 20, 30]

# ---------------- LAYOUT ----------------
W, H = 1346, 716
RED, BLUE, BLACK = "#EE1C24", "#3461C9", "#111111"
SERIF = "Liberation Serif, Times New Roman, serif"

def xd(a, b):
    return [a / W, b / W]

def yd(top, bottom):
    return [1 - bottom / H, 1 - top / H]

top_x = [(273.3, 454.3), (490, 671), (707.3, 888.3), (923.3, 1104.3)]
bot_x = [(57.7, 238.3), (274.3, 455), (490, 671), (707.3, 888), (923.3, 1104), (1140, 1321)]

data = {
    "11": (S11_MAG_RED, S11_MAG_BLUE, S11_MAG_BLACK, S11_PH_RED, S11_PH_BLUE, S11_PH_BLACK),
    "22": (S22_MAG_RED, S22_MAG_BLUE, S22_MAG_BLACK, S22_PH_RED, S22_PH_BLUE, S22_PH_BLACK),
    "33": (S33_MAG_RED, S33_MAG_BLUE, S33_MAG_BLACK, S33_PH_RED, S33_PH_BLUE, S33_PH_BLACK),
    "44": (S44_MAG_RED, S44_MAG_BLUE, S44_MAG_BLACK, S44_PH_RED, S44_PH_BLUE, S44_PH_BLACK),
    "12": (S12_MAG_RED, S12_MAG_BLUE, S12_MAG_BLACK, S12_PH_RED, S12_PH_BLUE, S12_PH_BLACK),
    "13": (S13_MAG_RED, S13_MAG_BLUE, S13_MAG_BLACK, S13_PH_RED, S13_PH_BLUE, S13_PH_BLACK),
    "14": (S14_MAG_RED, S14_MAG_BLUE, S14_MAG_BLACK, S14_PH_RED, S14_PH_BLUE, S14_PH_BLACK),
    "23": (S23_MAG_RED, S23_MAG_BLUE, S23_MAG_BLACK, S23_PH_RED, S23_PH_BLUE, S23_PH_BLACK),
    "24": (S24_MAG_RED, S24_MAG_BLUE, S24_MAG_BLACK, S24_PH_RED, S24_PH_BLUE, S24_PH_BLACK),
    "34": (S34_MAG_RED, S34_MAG_BLUE, S34_MAG_BLACK, S34_PH_RED, S34_PH_BLUE, S34_PH_BLACK),
}

fig = go.Figure()
layout = dict(
    width=W, height=H, margin=dict(l=0, r=0, t=0, b=0),
    paper_bgcolor="white", plot_bgcolor="white", showlegend=False,
    font=dict(family=SERIF, size=16, color="#111"),
)
annotations = []

def ticks(major, step, lo, hi):
    vals, text = [], []
    v = hi
    while v >= lo - 1e-9:
        vals.append(v)
        text.append(str(int(v)) if v in major else " ")
        v -= step
    return vals, text

def axis_common():
    return dict(showline=True, linecolor="#222", linewidth=1, mirror="ticks",
                ticks="inside", ticklen=4, tickwidth=1, tickcolor="#222",
                showgrid=False, zeroline=False,
                tickfont=dict(family=SERIF, size=16, color="#222"))

fx_vals, fx_text = ticks(FREQ_TICKS, 5, 0, 30)
fx_vals = fx_vals[::-1]; fx_text = fx_text[::-1]

def add_trace(pts, color, dash, xa, ya):
    xs = [p[0] for p in pts]
    ys = [p[1] for p in pts]
    fig.add_trace(go.Scatter(x=xs, y=ys, mode="lines", xaxis=xa, yaxis=ya,
                             line=dict(color=color, width=1.6, dash=dash),
                             hoverinfo="skip"))

for i, name in enumerate(PANEL_NAMES):
    top = i < 4
    if top:
        xa_px = top_x[i]
        mag_px, ph_px = (33.3, 176), (214.3, 304)
        mrange = [-41.3, 1.2]
        mv, mt = ticks(MAG_TICKS_TOP, 5, -40, 0)
        prange = [-373, 13]
        title_y, flabel_y = 15, 343
    else:
        xa_px = bot_x[i - 4]
        mag_px, ph_px = (398, 541), (579.3, 669)
        mrange = [-70, 1.7]
        mv, mt = ticks(MAG_TICKS_BOTTOM, 10, -70, 0)
        prange = [-379, 11.6]
        title_y, flabel_y = 383, 706
    pv, pt = ticks(PHASE_TICKS, 90, -360, 0)
    ia, ib = 2 * i + 1, 2 * i + 2
    for idx, dom_y, rng, tv, tt in ((ia, mag_px, mrange, mv, mt), (ib, ph_px, prange, pv, pt)):
        xax = axis_common()
        xax.update(domain=xd(*xa_px), range=[0, 30], anchor=f"y{idx}",
                   tickvals=fx_vals, ticktext=fx_text, ticklabelstandoff=2)
        yax = axis_common()
        yax.update(domain=yd(*dom_y), range=rng, anchor=f"x{idx}",
                   tickvals=tv, ticktext=tt, ticklabelstandoff=2)
        layout[f"xaxis{idx}"] = xax
        layout[f"yaxis{idx}"] = yax
    mr, mb, mk, pr, pb, pk = data[name]
    for pts, c, d in ((mr, RED, "solid"), (mb, BLUE, "dash"), (mk, BLACK, "dot")):
        add_trace(pts, c, d, f"x{ia}", f"y{ia}")
    for pts, c, d in ((pr, RED, "solid"), (pb, BLUE, "dash"), (pk, BLACK, "dot")):
        add_trace(pts, c, d, f"x{ib}", f"y{ib}")
    cx = (xa_px[0] + xa_px[1]) / 2 / W
    annotations.append(dict(text=f"<b>S<sub>{name}</sub></b>", x=cx, y=1 - title_y / H,
                            xref="paper", yref="paper", showarrow=False,
                            xanchor="center", yanchor="middle",
                            font=dict(family=SERIF, size=22, color="#111")))
    annotations.append(dict(text="<b>Frequency (GHz)</b>", x=cx, y=1 - flabel_y / H,
                            xref="paper", yref="paper", showarrow=False,
                            xanchor="center", yanchor="middle",
                            font=dict(family=SERIF, size=18, color="#111")))

for lbl, xpx, ypx in (("Magnitude (dB)", 226, 104), ("Phase (deg.)", 226, 259),
                      ("Magnitude (dB)", -2, 474), ("Phase (deg.)", -2, 627)):
    annotations.append(dict(text=f"<b>{lbl}</b>", x=xpx / W, y=1 - ypx / H,
                            xref="paper", yref="paper", showarrow=False, textangle=-90,
                            xanchor="center", yanchor="middle",
                            font=dict(family=SERIF, size=18, color="#111")))

layout["annotations"] = annotations
fig.update_layout(**layout)
fig.write_html("out.html", config={"displayModeBar": False},
               post_script="document.body.style.margin='0';document.body.style.padding='0';document.body.style.overflow='hidden';")
